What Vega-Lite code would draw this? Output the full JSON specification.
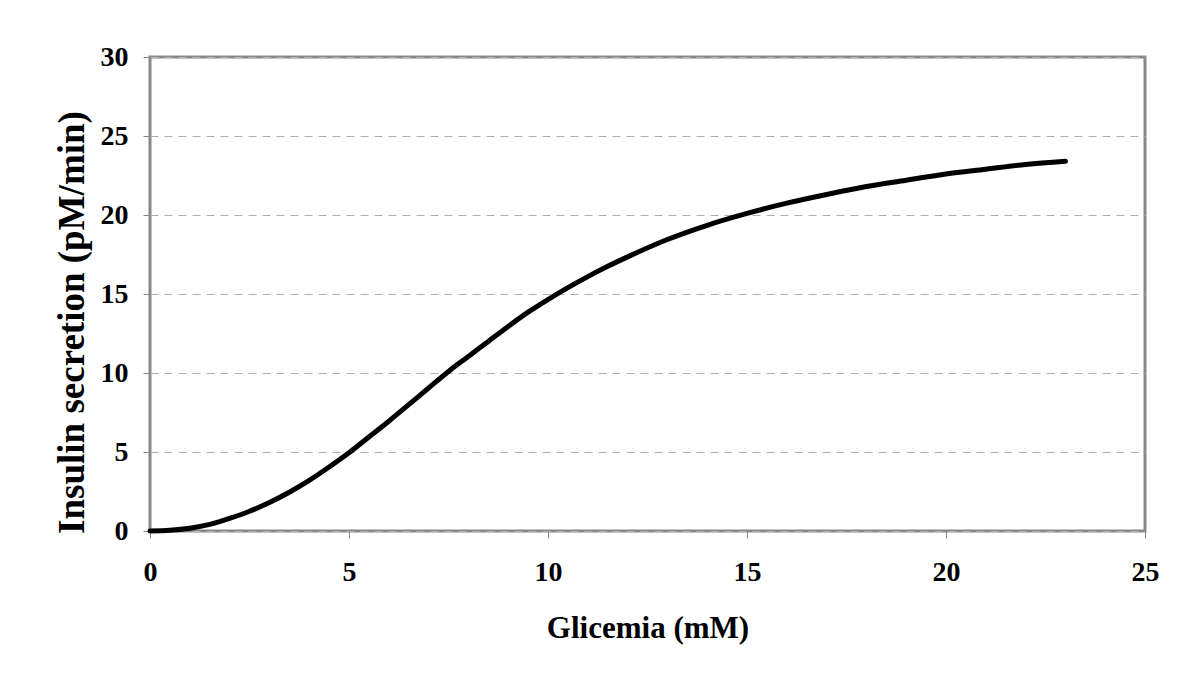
{
  "$schema": "https://vega.github.io/schema/vega-lite/v6.json",
  "width": 995,
  "height": 474,
  "autosize": {"type": "none"},
  "padding": {"left": 150, "top": 57, "right": 55, "bottom": 151},
  "background": "white",
  "config": {
    "font": "Liberation Serif",
    "view": {"stroke": "#888888", "strokeWidth": 3}
  },
  "data": {
    "values": [
      {"g": 0, "s": 0},
      {"g": 0.5, "s": 0.05},
      {"g": 1, "s": 0.18},
      {"g": 1.5, "s": 0.42},
      {"g": 2, "s": 0.8},
      {"g": 2.5, "s": 1.25},
      {"g": 3, "s": 1.8},
      {"g": 3.5, "s": 2.45},
      {"g": 4, "s": 3.2},
      {"g": 4.5, "s": 4.05},
      {"g": 5, "s": 4.95},
      {"g": 5.5, "s": 5.95},
      {"g": 6, "s": 6.95},
      {"g": 6.5, "s": 8.0},
      {"g": 7, "s": 9.05},
      {"g": 7.5, "s": 10.1},
      {"g": 8, "s": 11.05},
      {"g": 8.5, "s": 12.0},
      {"g": 9, "s": 12.95},
      {"g": 9.5, "s": 13.85},
      {"g": 10, "s": 14.65},
      {"g": 10.5, "s": 15.4},
      {"g": 11, "s": 16.1},
      {"g": 11.5, "s": 16.75},
      {"g": 12, "s": 17.35},
      {"g": 13, "s": 18.45},
      {"g": 14, "s": 19.35},
      {"g": 15, "s": 20.1},
      {"g": 16, "s": 20.75},
      {"g": 17, "s": 21.3},
      {"g": 18, "s": 21.8},
      {"g": 19, "s": 22.2},
      {"g": 20, "s": 22.6},
      {"g": 21, "s": 22.9},
      {"g": 22, "s": 23.2},
      {"g": 23, "s": 23.4}
    ]
  },
  "mark": {"type": "line", "color": "black", "strokeWidth": 5, "strokeCap": "round", "interpolate": "monotone"},
  "encoding": {
    "x": {
      "field": "g",
      "type": "quantitative",
      "scale": {"domain": [0, 25], "nice": false},
      "axis": {
        "title": "Glicemia (mM)",
        "values": [0, 5, 10, 15, 20, 25],
        "grid": false,
        "domain": false,
        "labelFlush": false,
        "tickColor": "#888888",
        "tickSize": 7,
        "labelFont": "Liberation Serif",
        "labelFontSize": 28,
        "labelFontWeight": "bold",
        "labelColor": "black",
        "labelPadding": 20,
        "titleFont": "Liberation Serif",
        "titleFontSize": 31,
        "titleFontWeight": "bold",
        "titleColor": "black",
        "titlePadding": 27
      }
    },
    "y": {
      "field": "s",
      "type": "quantitative",
      "scale": {"domain": [0, 30], "nice": false},
      "axis": {
        "title": "Insulin secretion (pM/min)",
        "values": [0, 5, 10, 15, 20, 25, 30],
        "grid": true,
        "gridColor": "#b0b0b0",
        "gridDash": [8, 6],
        "gridWidth": 1,
        "domain": false,
        "labelFlush": false,
        "tickColor": "#888888",
        "tickSize": 7,
        "labelFont": "Liberation Serif",
        "labelFontSize": 28,
        "labelFontWeight": "bold",
        "labelColor": "black",
        "labelPadding": 15,
        "titleFont": "Liberation Serif",
        "titleFontSize": 37,
        "titleFontWeight": "bold",
        "titleColor": "black",
        "titlePadding": 9,
        "titleY": 265
      }
    }
  }
}
